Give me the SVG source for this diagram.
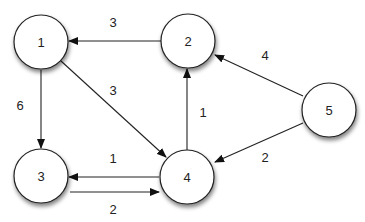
<svg xmlns="http://www.w3.org/2000/svg" width="365" height="222" viewBox="0 0 365 222">
<style>
.n circle{fill:#fff;stroke:#222;stroke-width:1.2;filter:url(#sh)}
.n text{font-family:"Liberation Sans",Arial,sans-serif;font-size:13px;fill:#222;text-anchor:middle;dominant-baseline:central}
.e line{stroke:#222;stroke-width:1.1;marker-end:url(#ah)}
.l{font-family:"Liberation Sans",Arial,sans-serif;font-size:13px;fill:#222;text-anchor:middle;dominant-baseline:central}
</style>
<defs>
<filter id="sh" x="-30%" y="-30%" width="170%" height="170%">
<feGaussianBlur in="SourceAlpha" stdDeviation="2"/>
<feOffset dx="1" dy="3" result="b"/>
<feComponentTransfer><feFuncA type="linear" slope="0.5"/></feComponentTransfer>
<feMerge><feMergeNode/><feMergeNode in="SourceGraphic"/></feMerge>
</filter>
<marker id="ah" markerWidth="10" markerHeight="8" refX="9" refY="4" orient="auto" markerUnits="userSpaceOnUse">
<path d="M0,0 L10,4 L0,8 z" fill="#111"/>
</marker>
</defs>
<g id="edges" class="e">
<line x1="161" y1="41" x2="69" y2="41"/>
<line x1="61" y1="61" x2="166" y2="157"/>
<line x1="41" y1="70" x2="41" y2="148"/>
<line x1="159" y1="177" x2="69" y2="177"/>
<line x1="70" y1="192" x2="159" y2="192"/>
<line x1="187" y1="150" x2="187" y2="69"/>
<line x1="303" y1="96" x2="215" y2="55"/>
<line x1="303" y1="123" x2="215" y2="162"/>
</g>
<g id="labels">
<text class="l" x="113" y="22">3</text>
<text class="l" x="113" y="90">3</text>
<text class="l" x="20" y="105">6</text>
<text class="l" x="113" y="158">1</text>
<text class="l" x="113" y="209">2</text>
<text class="l" x="203" y="112">1</text>
<text class="l" x="265" y="55">4</text>
<text class="l" x="265" y="157">2</text>
</g>
<g id="node1" class="n"><circle cx="41" cy="42" r="27"/><text x="41" y="42">1</text></g>
<g id="node2" class="n"><circle cx="188" cy="41" r="27"/><text x="188" y="41">2</text></g>
<g id="node3" class="n"><circle cx="41" cy="176" r="27"/><text x="41" y="176">3</text></g>
<g id="node4" class="n"><circle cx="187" cy="177" r="27"/><text x="187" y="177">4</text></g>
<g id="node5" class="n"><circle cx="329" cy="110" r="27"/><text x="329" y="110">5</text></g>
</svg>
